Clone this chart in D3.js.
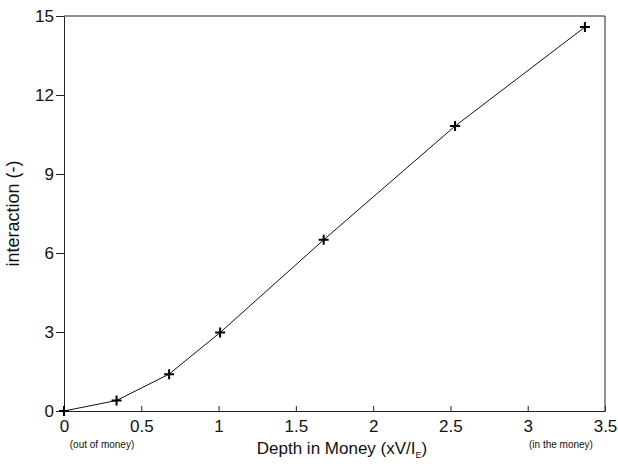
<!DOCTYPE html>
<html>
<head>
<meta charset="utf-8">
<script src="https://cdn.jsdelivr.net/npm/d3@7"></script>
<style>
  body { margin: 0; background: #fff; }
  text { font-family: "Liberation Sans", Arial, sans-serif; fill: #111; }
</style>
</head>
<body>
<svg id="chart"></svg>
<script>
// Chart dimensions
const width = 618;
const height = 464;
const margin = { top: 16, right: 13, bottom: 53, left: 64 };

// Data
const depth = [0, 0.34, 0.68, 1.01, 1.68, 2.53, 3.37];
const interaction = [0, 0.4, 1.4, 2.98, 6.5, 10.82, 14.58];
const xTicks = [0, 0.5, 1, 1.5, 2, 2.5, 3, 3.5];
const yTicks = [0, 3, 6, 9, 12, 15];

const points = depth.map((d, i) => [d, interaction[i]]);

const svg = d3.select("#chart")
    .attr("width", width)
    .attr("height", height);

const xScale = d3.scaleLinear()
    .domain([0, 3.5])
    .range([margin.left, width - margin.right]);

const yScale = d3.scaleLinear()
    .domain([0, 15])
    .range([height - margin.bottom, margin.top]);

// Frame (top and right edges)
svg.append("path")
    .attr("d", `M${xScale(0)},${yScale(15)}H${xScale(3.5)}V${yScale(0)}`)
    .attr("fill", "none")
    .attr("stroke", "#222")
    .attr("stroke-width", 1);

// x axis: ticks point inward
const xAxis = d3.axisBottom(xScale)
    .tickValues(xTicks)
    .tickFormat(d3.format("~g"))
    .tickSizeInner(-5)
    .tickSizeOuter(0)
    .tickPadding(11);
const gx = svg.append("g")
    .attr("transform", `translate(0, ${yScale(0)})`)
    .call(xAxis);

// y axis: ticks point outward
const yAxis = d3.axisLeft(yScale)
    .tickValues(yTicks)
    .tickSizeInner(8)
    .tickSizeOuter(0)
    .tickPadding(2);
const gy = svg.append("g")
    .attr("transform", `translate(${xScale(0)}, 0)`)
    .call(yAxis);

[gx, gy].forEach(g => {
    g.selectAll(".domain").attr("stroke", "#222");
    g.selectAll(".tick line").attr("stroke", "#222");
    g.selectAll(".tick text")
        .attr("font-size", 17)
        .attr("font-family", "Liberation Sans, Arial, sans-serif")
        .attr("fill", "#111");
});
gx.selectAll(".tick text").attr("dy", "0.6em");

// Line through the points
const line = d3.line()
    .x(d => xScale(d[0]))
    .y(d => yScale(d[1]));

svg.append("path")
    .datum(points)
    .attr("d", line)
    .attr("fill", "none")
    .attr("stroke", "#111")
    .attr("stroke-width", 1);

// "+" markers
svg.selectAll(".marker")
    .data(points)
    .enter()
    .append("path")
    .attr("class", "marker")
    .attr("d", d => {
        const x = xScale(d[0]), y = yScale(d[1]);
        return `M${x - 5},${y}H${x + 5}M${x},${y - 5}V${y + 5}`;
    })
    .attr("stroke", "#000")
    .attr("stroke-width", 2);

// Axis titles
svg.append("text")
    .attr("transform", `translate(19, ${(yScale(0) + yScale(15)) / 2}) rotate(-90)`)
    .attr("text-anchor", "middle")
    .attr("font-size", 18)
    .text("interaction (-)");

const xt = svg.append("text")
    .attr("x", 342)
    .attr("y", 454)
    .attr("text-anchor", "middle")
    .attr("font-size", 17);
xt.append("tspan").text("Depth in Money (xV/I");
xt.append("tspan").attr("font-size", 9).attr("dy", 4).text("E");
xt.append("tspan").attr("dy", -4).text(")");

// Small notes under the axis ends
svg.append("text")
    .attr("x", 102)
    .attr("y", 448)
    .attr("text-anchor", "middle")
    .attr("font-size", 10)
    .text("(out of money)");

svg.append("text")
    .attr("x", 561)
    .attr("y", 448)
    .attr("text-anchor", "middle")
    .attr("font-size", 10)
    .text("(in the money)");
</script>
</body>
</html>
